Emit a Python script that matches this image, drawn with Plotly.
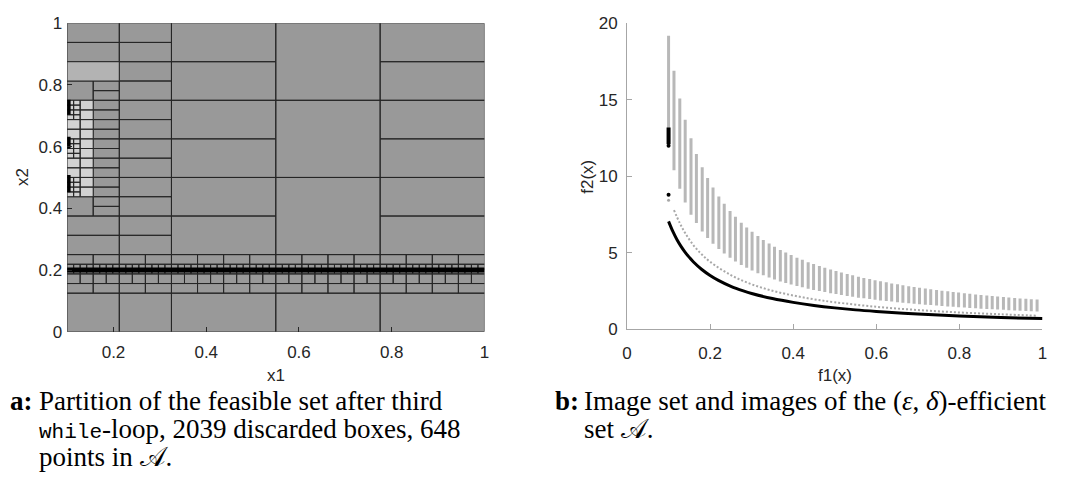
import plotly.graph_objects as go

# ---------------- left panel: box partition of the feasible set ----------------
# each block: (x1_lo, x1_hi, x2_lo, x2_hi, n_cols, n_rows) split into equal boxes
discarded_blocks = [
    # bottom row
    (0.1, 0.2125, 0.0, 0.125, 1, 1),
    (0.2125, 0.325, 0.0, 0.125, 1, 1),
    (0.325, 0.55, 0.0, 0.125, 1, 1),
    (0.55, 0.775, 0.0, 0.125, 1, 1),
    (0.775, 1.0, 0.0, 0.125, 1, 1),
    # refined band around x2 = 0.2
    (0.1, 1.0, 0.21875, 0.25, 16, 1),
    (0.1, 1.0, 0.203125, 0.21875, 64, 1),
    (0.1, 1.0, 0.1875, 0.203125, 64, 1),
    (0.1, 1.0, 0.15625, 0.1875, 32, 1),
    (0.1, 1.0, 0.125, 0.15625, 16, 1),
    # upper part
    (0.775, 1.0, 0.25, 1.0, 1, 6),
    (0.55, 0.775, 0.25, 0.5, 1, 1),
    (0.55, 0.775, 0.5, 1.0, 1, 2),
    (0.325, 0.55, 0.25, 1.0, 1, 6),
    (0.2125, 0.325, 0.25, 1.0, 1, 12),
    (0.1, 0.2125, 0.875, 1.0, 1, 2),
    (0.15625, 0.2125, 0.375, 0.8125, 1, 14),
    (0.1, 0.15625, 0.75, 0.8125, 1, 1),
    (0.1, 0.15625, 0.375, 0.4375, 1, 1),
    (0.1, 0.2125, 0.25, 0.375, 1, 2),
]
light_blocks = [
    (0.1, 0.2125, 0.8125, 0.875, 1, 1),
]
pale_blocks = [
    (0.128125, 0.15625, 0.4375, 0.75, 1, 10),
    (0.1, 0.128125, 0.6875, 0.75, 2, 4),
    (0.1, 0.128125, 0.625, 0.6875, 1, 2),
    (0.1, 0.128125, 0.5625, 0.625, 2, 4),
    (0.1, 0.128125, 0.5, 0.5625, 1, 2),
    (0.1, 0.128125, 0.4375, 0.5, 2, 4),
]

# points of the (eps, delta)-efficient set A in decision space
a_line_x1 = [0.1, 1.0]
a_line_x2 = [0.2, 0.2]
a_cluster_x1 = 0.1
a_cluster_x2 = [(0.703, 0.752), (0.594, 0.632), (0.452, 0.508)]

# ---------------- right panel: image set ----------------
bar_f1 = [0.100, 0.113, 0.127, 0.140, 0.154, 0.167, 0.181, 0.194, 0.207, 0.221,
          0.234, 0.248, 0.261, 0.275, 0.288, 0.301, 0.315, 0.328, 0.342, 0.355,
          0.369, 0.382, 0.395, 0.409, 0.422, 0.436, 0.449, 0.463, 0.476, 0.490,
          0.503, 0.516, 0.530, 0.543, 0.557, 0.570, 0.584, 0.597, 0.610, 0.624,
          0.637, 0.651, 0.664, 0.678, 0.691, 0.704, 0.718, 0.731, 0.745, 0.758,
          0.772, 0.785, 0.798, 0.812, 0.825, 0.839, 0.852, 0.866, 0.879, 0.892,
          0.906, 0.919, 0.933, 0.946, 0.960, 0.973, 0.987]
bar_top = [19.2, 16.9, 15.1, 13.7, 12.5, 11.46, 10.6, 9.9, 9.28, 8.69,
           8.21, 7.74, 7.36, 6.98, 6.67, 6.38, 6.10, 5.85, 5.61, 5.41,
           5.20, 5.03, 4.86, 4.69, 4.55, 4.40, 4.28, 4.15, 4.03, 3.92,
           3.82, 3.72, 3.62, 3.54, 3.45, 3.37, 3.29, 3.22, 3.15, 3.08,
           3.01, 2.95, 2.89, 2.83, 2.78, 2.73, 2.67, 2.63, 2.58, 2.53,
           2.49, 2.45, 2.41, 2.36, 2.33, 2.29, 2.25, 2.22, 2.18, 2.15,
           2.12, 2.09, 2.06, 2.03, 2.00, 1.97, 1.95]
bar_bottom = [12.0, 10.4, 9.2, 8.3, 7.5, 6.95, 6.4, 5.98, 5.6, 5.25,
              4.96, 4.68, 4.44, 4.22, 4.03, 3.85, 3.68, 3.54, 3.39, 3.27,
              3.14, 3.04, 2.94, 2.84, 2.75, 2.66, 2.58, 2.51, 2.44, 2.37,
              2.31, 2.25, 2.19, 2.14, 2.08, 2.04, 1.99, 1.94, 1.90, 1.86,
              1.82, 1.78, 1.75, 1.71, 1.68, 1.65, 1.62, 1.59, 1.56, 1.53,
              1.50, 1.48, 1.45, 1.43, 1.41, 1.38, 1.36, 1.34, 1.32, 1.30,
              1.28, 1.26, 1.24, 1.23, 1.21, 1.19, 1.18]

near_f1 = [0.113, 0.127, 0.14, 0.16, 0.18, 0.2, 0.25, 0.3, 0.35, 0.4,
           0.45, 0.5, 0.6, 0.7, 0.8, 0.9, 0.987]
near_f2 = [7.8, 6.95, 6.3, 5.5, 4.9, 4.42, 3.55, 2.95, 2.53, 2.22,
           1.97, 1.78, 1.48, 1.27, 1.11, 0.99, 0.9]
near_single = (0.1, 8.45)

front_f1 = [0.1, 0.11, 0.12, 0.13, 0.14, 0.15, 0.16, 0.18, 0.2, 0.22, 0.25,
            0.28, 0.3, 0.35, 0.4, 0.45, 0.5, 0.55, 0.6, 0.7, 0.8, 0.9, 1.0]
front_f2 = [7.06, 6.42, 5.88, 5.43, 5.04, 4.71, 4.41, 3.92, 3.53, 3.21, 2.82,
            2.52, 2.35, 2.02, 1.77, 1.57, 1.41, 1.28, 1.18, 1.01, 0.88, 0.78, 0.71]
local_cluster = (0.1, 12.1, 13.2)
local_dots_f2 = [12.0, 8.8]

# ---------------- styles ----------------
W, H = 1068, 493
EDGE = "#262626"
TXT = "#262626"
AXIS_GRAY = "#a6a6a6"
SANS = "Liberation Sans, Arial, sans-serif"
SERIF = "Liberation Serif, Times New Roman, serif"
LBL = 17


def boxes_path(blocks):
    xs, ys = [], []
    for x0, x1, y0, y1, nc, nr in blocks:
        dx = (x1 - x0) / nc
        dy = (y1 - y0) / nr
        for i in range(nc):
            for j in range(nr):
                a, b = x0 + i * dx, x0 + (i + 1) * dx
                c, d = y0 + j * dy, y0 + (j + 1) * dy
                xs += [a, b, b, a, a, None]
                ys += [c, c, d, d, c, None]
    return xs, ys


fig = go.Figure()

for blocks, fill in [(discarded_blocks, "#999999"), (light_blocks, "#b3b3b3"),
                     (pale_blocks, "#d2d2d2")]:
    bx, by = boxes_path(blocks)
    fig.add_trace(go.Scatter(x=bx, y=by, mode="lines", fill="toself",
                             fillcolor=fill, line=dict(color=EDGE, width=1),
                             hoverinfo="skip", xaxis="x", yaxis="y"))

fig.add_trace(go.Scatter(x=a_line_x1, y=a_line_x2, mode="lines",
                         line=dict(color="black", width=5), cliponaxis=False,
                         xaxis="x", yaxis="y"))
cx, cy = [], []
for lo, hi in a_cluster_x2:
    cx += [a_cluster_x1, a_cluster_x1, None]
    cy += [lo, hi, None]
fig.add_trace(go.Scatter(x=cx, y=cy, mode="lines",
                         line=dict(color="black", width=7), cliponaxis=False,
                         xaxis="x", yaxis="y"))

# right panel marks
vx, vy = [], []
for f, lo, hi in zip(bar_f1, bar_bottom, bar_top):
    vx += [f, f, None]
    vy += [lo, hi, None]
fig.add_trace(go.Scatter(x=vx, y=vy, mode="lines",
                         line=dict(color="#b8b8b8", width=3),
                         xaxis="x2", yaxis="y2"))
fig.add_trace(go.Scatter(x=near_f1, y=near_f2, mode="lines",
                         line=dict(color="#a8a8a8", width=2, dash="2px,2px", shape="spline"),
                         xaxis="x2", yaxis="y2"))
fig.add_trace(go.Scatter(x=[near_single[0]], y=[near_single[1]], mode="markers",
                         marker=dict(color="#a8a8a8", size=3),
                         xaxis="x2", yaxis="y2"))
fig.add_trace(go.Scatter(x=front_f1, y=front_f2, mode="lines",
                         line=dict(color="black", width=3, shape="spline"),
                         xaxis="x2", yaxis="y2"))
fig.add_trace(go.Scatter(x=[local_cluster[0]] * 2, y=[local_cluster[1], local_cluster[2]],
                         mode="lines", line=dict(color="black", width=4),
                         xaxis="x2", yaxis="y2"))
fig.add_trace(go.Scatter(x=[local_cluster[0]] * len(local_dots_f2), y=local_dots_f2,
                         mode="markers", marker=dict(color="black", size=4),
                         xaxis="x2", yaxis="y2"))

tickfont = dict(family=SANS, size=LBL, color=TXT)
fig.update_layout(
    width=W, height=H, showlegend=False,
    margin=dict(l=0, r=0, t=0, b=0),
    paper_bgcolor="white", plot_bgcolor="white",
    xaxis=dict(domain=[62.7 / W, 484 / W], range=[0.1, 1], tickvals=[0.2, 0.4, 0.6, 0.8, 1],
               ticktext=["0.2", "0.4", "0.6", "0.8", "1"], ticks="inside", ticklen=5,
               tickcolor=EDGE, showgrid=False, zeroline=False, showline=False,
               tickfont=tickfont, ticklabelstandoff=8, anchor="y"),
    yaxis=dict(domain=[1 - 335.7 / H, 1 - 14.7 / H], range=[0, 1],
               tickvals=[0, 0.2, 0.4, 0.6, 0.8, 1],
               ticktext=["0", "0.2", "0.4", "0.6", "0.8", "1"], ticks="inside", ticklen=5,
               tickcolor=EDGE, showgrid=False, zeroline=False, showline=False,
               tickfont=tickfont, ticklabelstandoff=4, anchor="x"),
    xaxis2=dict(domain=[627.9 / W, 1047.3 / W], range=[0, 1],
                tickvals=[0, 0.2, 0.4, 0.6, 0.8, 1],
                ticktext=["0", "0.2", "0.4", "0.6", "0.8", "1"], ticks="inside", ticklen=5,
                tickcolor=AXIS_GRAY, showgrid=False, zeroline=False, showline=True,
                linecolor=AXIS_GRAY, linewidth=1, tickfont=tickfont,
                ticklabelstandoff=8, anchor="y2"),
    yaxis2=dict(domain=[1 - 333.3 / H, 1 - 15 / H], range=[0, 20],
                tickvals=[0, 5, 10, 15, 20], ticks="inside", ticklen=5,
                tickcolor=AXIS_GRAY, showgrid=False, zeroline=False, showline=True,
                linecolor=AXIS_GRAY, linewidth=1, tickfont=tickfont,
                ticklabelstandoff=5, anchor="x2"),
)


def px_note(text, x, y, size=LBL, family=SANS, xanchor="center", yanchor="middle",
            angle=0, color=TXT):
    fig.add_annotation(text=text, x=x / W, y=1 - y / H, xref="paper", yref="paper",
                       showarrow=False, xanchor=xanchor, yanchor=yanchor,
                       textangle=angle, font=dict(family=family, size=size, color=color))


# axis titles
px_note("x1", 273.3, 381.5)
px_note("x2", 17, 175, angle=-90)
px_note("f1(x)", 837.6, 381.5)
px_note("f2(x)", 588, 174, angle=-90)

# sub-figure captions
CAP = 27
MONO_SPAN = "<span style='font-family:Liberation Mono;font-size:21px'>while</span>"
px_note("<b>a:</b>", 3, 408, size=CAP, family=SERIF, xanchor="left", color="black")
px_note("Partition of the feasible set after third", 32, 408, size=CAP,
        family=SERIF, xanchor="left", color="black")
px_note(MONO_SPAN + "-loop, 2039 discarded boxes, 648",
        32, 437, size=CAP, family=SERIF, xanchor="left", color="black")
px_note("points in 𝒜.", 32, 466, size=CAP, family=SERIF, xanchor="left",
        color="black")
px_note("<b>b:</b>", 553, 408, size=CAP, family=SERIF, xanchor="left", color="black")
px_note("Image set and images of the (<i>ε</i>, <i>δ</i>)-efficient", 582, 408, size=CAP,
        family=SERIF, xanchor="left", color="black")
px_note("set 𝒜.", 582, 437, size=CAP, family=SERIF, xanchor="left", color="black")

fig.write_html("out.html")
